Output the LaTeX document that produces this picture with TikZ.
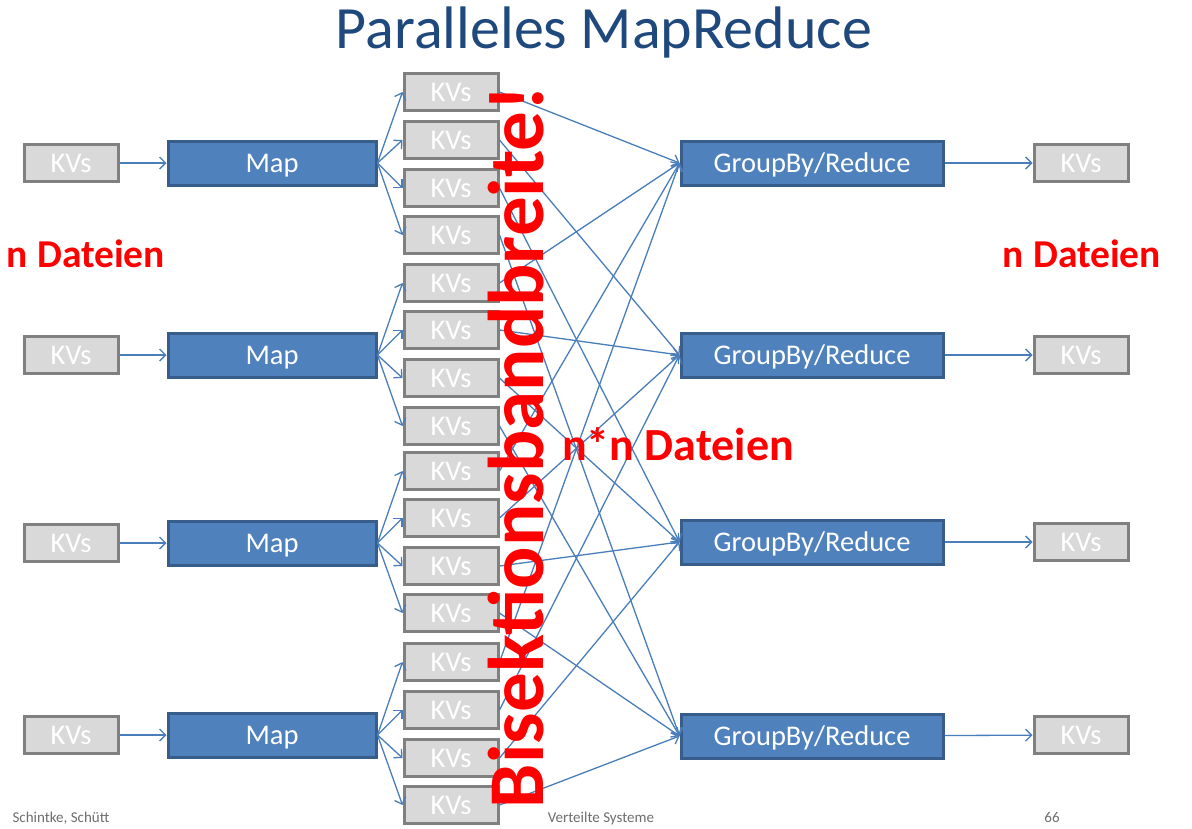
\documentclass[tikz,border=0pt]{standalone}
\usepackage{fontspec}
\setmainfont{Carlito}
\usetikzlibrary{arrows.meta}
\definecolor{titelblau}{RGB}{31,73,125}
\definecolor{mapfill}{RGB}{79,129,189}
\definecolor{maprand}{RGB}{56,93,138}
\definecolor{kvfill}{RGB}{217,217,217}
\definecolor{kvrand}{RGB}{128,128,128}
\definecolor{pfeil}{RGB}{74,126,187}
\definecolor{fussgrau}{RGB}{110,110,110}
\tikzset{
  kvbox/.style={draw=kvrand,fill=kvfill,line width=3pt,minimum width=94pt,minimum height=37pt,inner sep=0pt,text=white,font=\fontsize{28.5}{28.5}\selectfont,text height=18.4pt,text depth=0pt},
  mapbox/.style={kvbox,draw=maprand,fill=mapfill,minimum width=208pt,minimum height=44pt},
  redbox/.style={mapbox,minimum width=262pt},
  flow/.style={draw=pfeil,line width=1.3pt,-{Straight Barb[length=6pt,width=12pt]}},
  rottext/.style={text=red,font=\bfseries\fontsize{39.5}{39.5}\selectfont,anchor=base},
  fuss/.style={text=fussgrau,font=\fontsize{15}{15}\selectfont,anchor=base}
}
\begin{document}
\begin{tikzpicture}[x=1pt,y=-1pt]
\useasboundingbox[fill=white] (0,0) rectangle (1192,828);

\node[text=titelblau,font=\fontsize{60}{60}\selectfont,anchor=base] (titel) at (604,48) {Paralleles MapReduce};

% Eingabe
\node[kvbox] (kvin1) at (71,163) {KVs};
\node[kvbox] (kvin2) at (71,355) {KVs};
\node[kvbox] (kvin3) at (71,543) {KVs};
\node[kvbox] (kvin4) at (71,735) {KVs};

% Map
\node[mapbox] (map1) at (272,163) {Map};
\node[mapbox] (map2) at (272,355) {Map};
\node[mapbox] (map3) at (272,543) {Map};
\node[mapbox] (map4) at (272,735) {Map};

% Zwischenergebnisse
\node[kvbox] (kv11) at (451,92) {KVs};
\node[kvbox] (kv12) at (451,140) {KVs};
\node[kvbox] (kv13) at (451,188) {KVs};
\node[kvbox] (kv14) at (451,235) {KVs};
\node[kvbox] (kv21) at (451,283) {KVs};
\node[kvbox] (kv22) at (451,330) {KVs};
\node[kvbox] (kv23) at (451,378) {KVs};
\node[kvbox] (kv24) at (451,426) {KVs};
\node[kvbox] (kv31) at (451,471) {KVs};
\node[kvbox] (kv32) at (451,518) {KVs};
\node[kvbox] (kv33) at (451,566) {KVs};
\node[kvbox] (kv34) at (451,613) {KVs};
\node[kvbox] (kv41) at (451,662) {KVs};
\node[kvbox] (kv42) at (451,710) {KVs};
\node[kvbox] (kv43) at (451,758) {KVs};
\node[kvbox] (kv44) at (451,805) {KVs};

% GroupBy/Reduce
\node[redbox] (red1) at (812,163) {GroupBy/Reduce};
\node[redbox] (red2) at (812,355) {GroupBy/Reduce};
\node[redbox] (red3) at (812,542) {GroupBy/Reduce};
\node[redbox] (red4) at (812,736) {GroupBy/Reduce};

% Ausgabe
\node[kvbox] (kvout1) at (1081,163) {KVs};
\node[kvbox] (kvout2) at (1081,355) {KVs};
\node[kvbox] (kvout3) at (1081,542) {KVs};
\node[kvbox] (kvout4) at (1081,735) {KVs};

\draw[flow] (kvin1) -- (map1);
\draw[flow] (kvin2) -- (map2);
\draw[flow] (kvin3) -- (map3);
\draw[flow] (kvin4) -- (map4);

\draw[flow] (map1.east) -- (kv11.west); %Map1
\draw[flow] (map1.east) -- (kv12.west);
\draw[flow] (map1.east) -- (kv13.west);
\draw[flow] (map1.east) -- (kv14.west);
\draw[flow] (map2.east) -- (kv21.west); %Map2
\draw[flow] (map2.east) -- (kv22.west);
\draw[flow] (map2.east) -- (kv23.west);
\draw[flow] (map2.east) -- (kv24.west);
\draw[flow] (map3.east) -- (kv31.west); %Map3
\draw[flow] (map3.east) -- (kv32.west);
\draw[flow] (map3.east) -- (kv33.west);
\draw[flow] (map3.east) -- (kv34.west);
\draw[flow] (map4.east) -- (kv41.west); %Map4
\draw[flow] (map4.east) -- (kv42.west);
\draw[flow] (map4.east) -- (kv43.west);
\draw[flow] (map4.east) -- (kv44.west);

\draw[flow] (kv11.east) -- (red1.west); %Shuffle
\draw[flow] (kv21.east) -- (red1.west);
\draw[flow] (kv31.east) -- (red1.west);
\draw[flow] (kv41.east) -- (red1.west);
\draw[flow] (kv12.east) -- (red2.west);
\draw[flow] (kv22.east) -- (red2.west);
\draw[flow] (kv32.east) -- (red2.west);
\draw[flow] (kv42.east) -- (red2.west);
\draw[flow] (kv13.east) -- (red3.west);
\draw[flow] (kv23.east) -- (red3.west);
\draw[flow] (kv33.east) -- (red3.west);
\draw[flow] (kv43.east) -- (red3.west);
\draw[flow] (kv14.east) -- (red4.west);
\draw[flow] (kv24.east) -- (red4.west);
\draw[flow] (kv34.east) -- (red4.west);
\draw[flow] (kv44.east) -- (red4.west);

\draw[flow] (red1) -- (kvout1);
\draw[flow] (red2) -- (kvout2);
\draw[flow] (red3) -- (kvout3);
\draw[flow] (red4) -- (kvout4);

\node[rottext] (dateienl) at (86,267) {n Dateien};
\node[rottext] (dateienr) at (1082,267) {n Dateien};
\node[rottext,font=\bfseries\fontsize{46}{46}\selectfont] (dateienm) at (678,460) {n*n Dateien};
\node[text=red,font=\bfseries\fontsize{79}{79}\selectfont,rotate=90,anchor=base] (bisektion) at (543,447) {Bisektionsbandbreite!};

\node[fuss,anchor=base west] (autoren) at (9,822) {Schintke, Schütt};
\node[fuss] (vorlesung) at (601,822) {Verteilte Systeme};
\node[fuss] (seite) at (1052,822) {66};
\end{tikzpicture}
\end{document}
